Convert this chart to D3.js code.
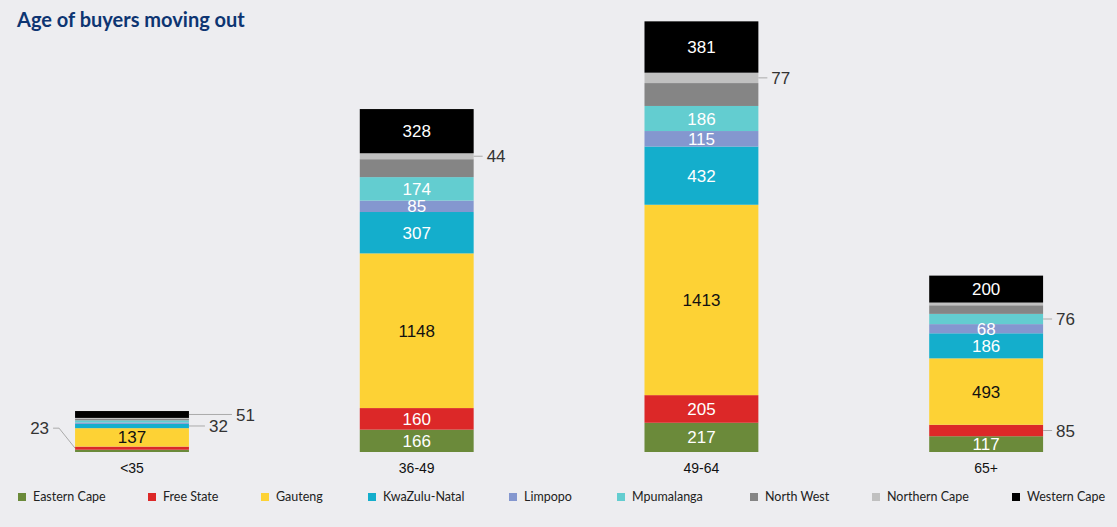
<!DOCTYPE html>
<html>
<head>
<meta charset="utf-8">
<script src="https://cdn.jsdelivr.net/npm/d3@7"></script>
<style>
  html, body { margin: 0; padding: 0; background: #ededf0; }
  svg { display: block; }
</style>
</head>
<body>
<svg id="chart" width="1117" height="527"></svg>
<script>
// ---- DATA ----
const categories = ["<35", "36-49", "49-64", "65+"];
const seriesNames = ["Eastern Cape", "Free State", "Gauteng", "KwaZulu-Natal", "Limpopo", "Mpumalanga", "North West", "Northern Cape", "Western Cape"];
const easternCape  = [17, 166, 217, 117];
const freeState    = [23, 160, 205, 85];
const gauteng      = [137, 1148, 1413, 493];
const kwaZuluNatal = [32, 307, 432, 186];
const limpopo      = [10, 85, 115, 68];
const mpumalanga   = [16, 174, 186, 76];
const northWest    = [10, 133, 170, 64];
const northernCape = [8, 44, 77, 20];
const westernCape  = [51, 328, 381, 200];
const seriesValues = [easternCape, freeState, gauteng, kwaZuluNatal, limpopo, mpumalanga, northWest, northernCape, westernCape];
// label placement per series per category: "in", "out", "left", or "" (none)
const labelPlacement = [
  ["", "in", "in", "in"],
  ["left", "in", "in", "out"],
  ["in", "in", "in", "in"],
  ["out", "in", "in", "in"],
  ["", "in", "in", "in"],
  ["", "in", "in", "out"],
  ["", "", "", ""],
  ["", "out", "out", ""],
  ["out", "in", "in", "in"]
];

// ---- STYLE ----
const colors = ["#6b8a3a", "#dc2828", "#fdd235", "#14aecc", "#8497cf", "#63cdd0", "#858585", "#c0c0c0", "#000000"];
const darkText = { 2: true };
const legendX = [18, 148, 261, 368, 509, 617, 750, 872, 1012];

const svg = d3.select("#chart");

svg.append("text")
  .attr("x", 17).attr("y", 27)
  .attr("font-family", "Lato, 'Noto Sans', sans-serif")
  .attr("font-weight", 700)
  .attr("font-size", 20)
  .attr("fill", "#0d3572")
  .text("Age of buyers moving out");

const x = d3.scaleBand().domain(categories).range([-10.35, 1128.5]).paddingInner(0.6).paddingOuter(0.3);
const y = d3.scaleLinear().domain([0, 3206]).range([452, 20]);

const table = categories.map((c, i) => {
  const row = { cat: c };
  seriesNames.forEach((s, j) => row[s] = seriesValues[j][i]);
  return row;
});
const stacked = d3.stack().keys(seriesNames)(table);

const g = svg.append("g");
stacked.forEach((layer, j) => {
  g.selectAll(null).data(layer).enter().append("rect")
    .attr("x", d => x(d.data.cat))
    .attr("width", x.bandwidth())
    .attr("y", d => y(d[1]))
    .attr("height", d => y(d[0]) - y(d[1]))
    .attr("fill", colors[j]);
});

const font = "'Liberation Sans', Arial, sans-serif";
stacked.forEach((layer, j) => {
  layer.forEach((d, i) => {
    const mode = labelPlacement[j][i];
    if (!mode) return;
    const cy = (y(d[0]) + y(d[1])) / 2;
    const val = d[1] - d[0];
    if (mode === "in") {
      g.append("text")
        .attr("x", x(d.data.cat) + x.bandwidth() / 2)
        .attr("y", cy)
        .attr("dy", "0.36em")
        .attr("text-anchor", "middle")
        .attr("font-family", font)
        .attr("font-size", 17)
        .attr("fill", darkText[j] ? "#111" : "#fff")
        .text(val);
    } else if (mode === "out") {
      const x0 = x(d.data.cat) + x.bandwidth();
      const len = (i === 0) ? (j === 8 ? 43 : 16) : 9;
      g.append("line")
        .attr("x1", x0).attr("x2", x0 + len)
        .attr("y1", cy).attr("y2", cy)
        .attr("stroke", "#aaa").attr("stroke-width", 1);
      g.append("text")
        .attr("x", x0 + len + 4)
        .attr("y", cy)
        .attr("dy", "0.36em")
        .attr("font-family", font)
        .attr("font-size", 17)
        .attr("fill", "#333")
        .text(val);
    } else if (mode === "left") {
      const x0 = x(d.data.cat);
      const ly = cy - 20;
      g.append("polyline")
        .attr("points", `${x0},${cy} ${x0 - 16},${ly} ${x0 - 22},${ly}`)
        .attr("fill", "none")
        .attr("stroke", "#aaa").attr("stroke-width", 1);
      g.append("text")
        .attr("x", x0 - 26)
        .attr("y", ly)
        .attr("dy", "0.36em")
        .attr("text-anchor", "end")
        .attr("font-family", font)
        .attr("font-size", 17)
        .attr("fill", "#333")
        .text(val);
    }
  });
});

// category axis (no line)
const xAxis = d3.axisBottom(x).tickSize(0).tickPadding(0);
const ax = svg.append("g").attr("transform", "translate(0,462)").call(xAxis);
ax.select(".domain").remove();
ax.selectAll("text")
  .attr("font-family", font)
  .attr("font-size", 14)
  .attr("fill", "#111")
  .attr("dy", "0.8em");

// legend
const leg = svg.append("g").attr("transform", "translate(0,497)");
seriesNames.forEach((s, j) => {
  const it = leg.append("g").attr("transform", `translate(${legendX[j]},0)`);
  it.append("rect").attr("x", 0).attr("y", -4).attr("width", 8).attr("height", 8).attr("fill", colors[j]);
  it.append("text")
    .attr("x", 15).attr("y", 0).attr("dy", "0.35em")
    .attr("font-family", "Lato, 'Noto Sans', sans-serif")
    .attr("font-size", 12.5)
    .attr("fill", "#222")
    .text(s);
});
</script>
</body>
</html>
